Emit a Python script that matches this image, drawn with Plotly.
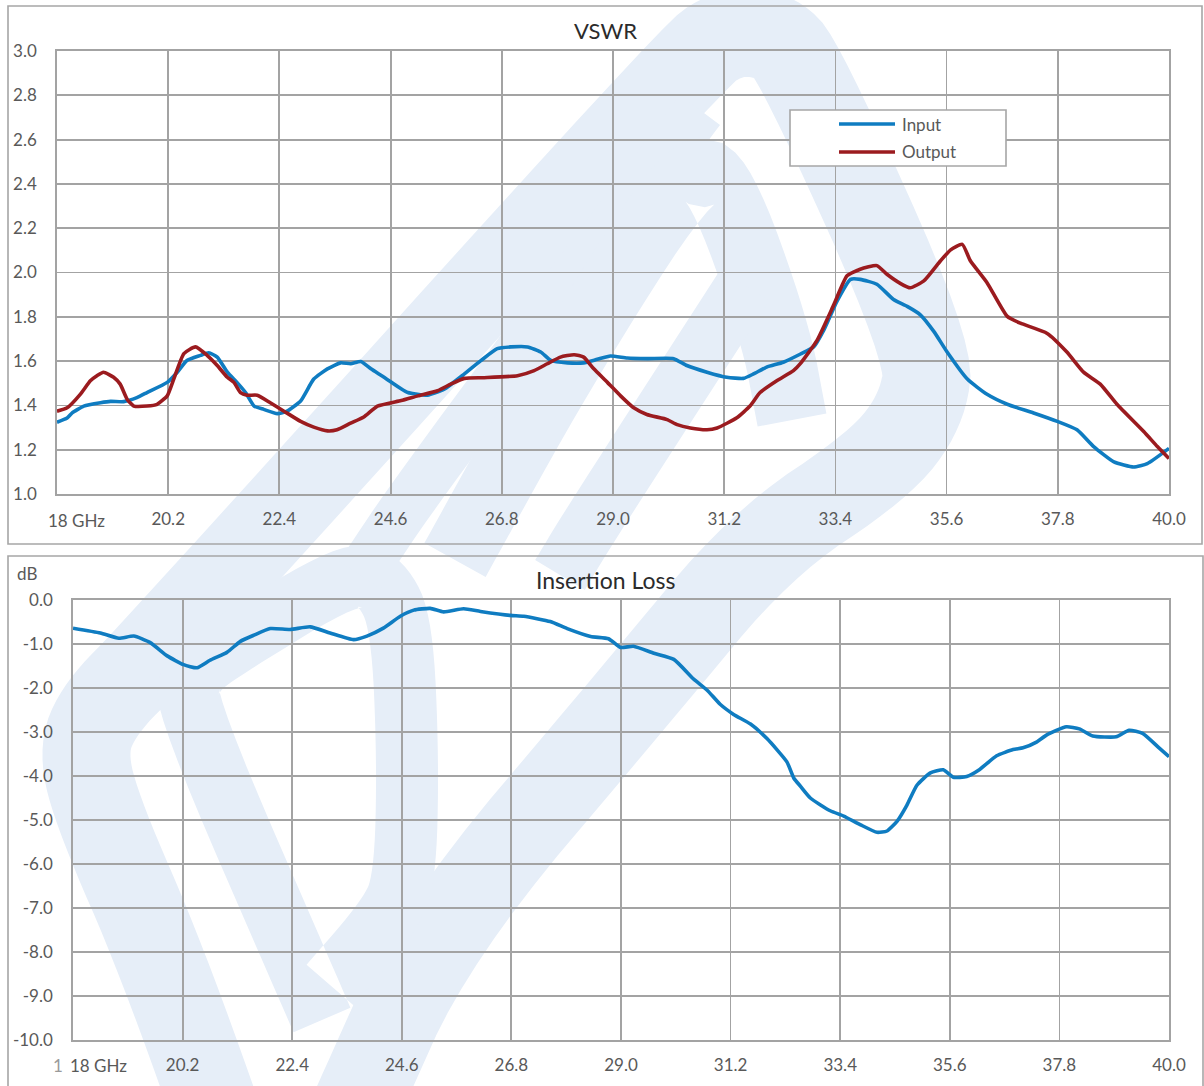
import plotly.graph_objects as go
import numpy as np

W, H = 1204, 1086

# ---------------- data ----------------
freq_in = [18.0, 18.2, 18.3, 18.53, 18.86, 19.06, 19.32, 19.58, 19.78, 20.18, 20.38, 20.57, 20.84, 21.0,
           21.17, 21.37, 21.56, 21.73, 21.9, 22.09, 22.36, 22.55, 22.82, 23.08, 23.35, 23.61, 23.81, 24.01,
           24.21, 24.47, 24.8, 24.94, 25.33, 25.66, 26.06, 26.39, 26.71, 26.98, 27.31, 27.57, 27.77, 28.1,
           28.42, 28.69, 28.95, 29.28, 29.68, 30.2, 30.46, 30.86, 31.25, 31.58, 31.78, 32.04, 32.37, 32.71,
           32.97, 33.17, 33.43, 33.7, 33.89, 34.22, 34.55, 34.82, 35.08, 35.35, 35.61, 36.01, 36.4, 36.8,
           37.32, 37.79, 38.18, 38.51, 38.91, 39.3, 39.57, 40.0]
vswr_in = [1.324, 1.343, 1.366, 1.397, 1.412, 1.418, 1.417, 1.435, 1.458, 1.504, 1.55, 1.603, 1.626, 1.638,
           1.618, 1.55, 1.504, 1.458, 1.397, 1.382, 1.363, 1.374, 1.42, 1.519, 1.565, 1.592, 1.588, 1.598,
           1.565, 1.527, 1.476, 1.458, 1.446, 1.473, 1.542, 1.603, 1.656, 1.664, 1.664, 1.641, 1.603, 1.592,
           1.592, 1.608, 1.623, 1.614, 1.611, 1.611, 1.58, 1.55, 1.527, 1.522, 1.542, 1.573, 1.595, 1.632,
           1.664, 1.74, 1.87, 1.969, 1.969, 1.947, 1.878, 1.847, 1.809, 1.733, 1.641, 1.519, 1.45, 1.405,
           1.366, 1.328, 1.29, 1.214, 1.145, 1.122, 1.137, 1.206]

freq_out = [18.0, 18.2, 18.46, 18.66, 18.79, 18.92, 19.12, 19.25, 19.39, 19.52, 19.78, 19.98, 20.18, 20.31,
            20.51, 20.74, 20.97, 21.17, 21.37, 21.5, 21.63, 21.76, 21.96, 22.22, 22.49, 22.82, 23.08, 23.35,
            23.54, 23.81, 24.07, 24.34, 24.81, 25.14, 25.53, 25.79, 26.06, 26.45, 27.11, 27.44, 27.7, 27.96,
            28.23, 28.42, 28.62, 28.89, 29.15, 29.41, 29.67, 30.07, 30.27, 30.53, 30.86, 31.06, 31.45, 31.71,
            31.91, 32.24, 32.57, 32.71, 33.04, 33.37, 33.63, 33.89, 34.22, 34.42, 34.69, 34.88, 35.15, 35.48,
            35.68, 35.91, 36.07, 36.4, 36.8, 37.06, 37.59, 37.98, 38.31, 38.64, 38.97, 39.5, 39.77, 40.0]
vswr_out = [1.374, 1.389, 1.45, 1.511, 1.534, 1.55, 1.527, 1.496, 1.427, 1.397, 1.397, 1.405, 1.443, 1.519,
            1.634, 1.664, 1.626, 1.58, 1.527, 1.504, 1.458, 1.446, 1.446, 1.412, 1.374, 1.328, 1.302, 1.285,
            1.29, 1.32, 1.348, 1.397, 1.422, 1.443, 1.466, 1.496, 1.522, 1.525, 1.534, 1.557, 1.588, 1.618,
            1.629, 1.618, 1.565, 1.504, 1.443, 1.389, 1.359, 1.336, 1.313, 1.298, 1.29, 1.298, 1.344, 1.397,
            1.458, 1.511, 1.557, 1.59, 1.695, 1.855, 1.985, 2.015, 2.031, 1.992, 1.95, 1.931, 1.962, 2.053,
            2.102, 2.127, 2.053, 1.954, 1.802, 1.771, 1.725, 1.641, 1.55, 1.496, 1.405, 1.282, 1.214, 1.16]

freq_il = [18.0, 18.55, 18.92, 19.22, 19.55, 19.89, 20.22, 20.49, 20.75, 21.09, 21.36, 21.63, 21.96, 22.36,
           22.76, 23.16, 23.63, 23.9, 24.23, 24.57, 24.84, 25.17, 25.44, 25.84, 26.18, 26.78, 27.05, 27.58,
           27.92, 28.39, 28.75, 28.99, 29.25, 29.66, 30.06, 30.46, 30.73, 30.99, 31.26, 31.6, 31.93, 32.33,
           32.47, 32.6, 32.8, 33.2, 33.47, 33.81, 34.14, 34.34, 34.54, 34.74, 34.94, 35.21, 35.47, 35.67,
           35.94, 36.2, 36.54, 36.87, 37.07, 37.34, 37.54, 37.94, 38.2, 38.47, 38.94, 39.2, 39.47, 39.8, 40.0]
il_db = [-0.64, -0.75, -0.87, -0.82, -0.97, -1.27, -1.47, -1.54, -1.37, -1.19, -0.94, -0.80, -0.65, -0.67,
         -0.61, -0.75, -0.90, -0.82, -0.64, -0.37, -0.23, -0.19, -0.27, -0.20, -0.26, -0.35, -0.37, -0.49,
         -0.65, -0.83, -0.88, -1.08, -1.05, -1.21, -1.35, -1.80, -2.05, -2.37, -2.60, -2.82, -3.15, -3.68,
         -4.05, -4.23, -4.50, -4.79, -4.91, -5.11, -5.28, -5.25, -5.03, -4.66, -4.21, -3.93, -3.86, -4.03,
         -4.01, -3.85, -3.54, -3.40, -3.36, -3.23, -3.07, -2.88, -2.93, -3.09, -3.11, -2.96, -3.03, -3.36, -3.56]

x_ticks = [18.0, 20.2, 22.4, 24.6, 26.8, 29.0, 31.2, 33.4, 35.6, 37.8, 40.0]
x_tick_text = ["", "20.2", "22.4", "24.6", "26.8", "29.0", "31.2", "33.4", "35.6", "37.8", "40.0"]
first_x_label = "18 GHz"
vswr_ticks = [1.0, 1.2, 1.4, 1.6, 1.8, 2.0, 2.2, 2.4, 2.6, 2.8, 3.0]
vswr_tick_text = ["1.0", "1.2", "1.4", "1.6", "1.8", "2.0", "2.2", "2.4", "2.6", "2.8", "3.0"]
il_ticks = [0, -1, -2, -3, -4, -5, -6, -7, -8, -9, -10]
il_tick_text = ["0.0", "-1.0", "-2.0", "-3.0", "-4.0", "-5.0", "-6.0", "-7.0", "-8.0", "-9.0", "-10.0"]
series_names = ["Input", "Output"]

# ---------------- style ----------------
BLUE = "#0F7CC1"
RED = "#9B1B1F"
GRID = "#a3a3a3"
LABEL = "#595959"
TITLE = "#2b2b2b"
WM = "#e6eef8"
FONT = "Lato, 'Open Sans', sans-serif"


def px(x):
    return x / W


def py(y):
    return 1 - y / H


def chaikin(pts, it=3):
    P = np.array(pts, float)
    for _ in range(it):
        Q = [P[0]]
        for a, b in zip(P[:-1], P[1:]):
            Q.append(0.75 * a + 0.25 * b)
            Q.append(0.25 * a + 0.75 * b)
        Q.append(P[-1])
        P = np.array(Q)
    return P


def band_path(pts, w):
    P = chaikin(pts)
    n = len(P)
    N = []
    for i in range(n):
        if i == 0:
            d = P[1] - P[0]
        elif i == n - 1:
            d = P[-1] - P[-2]
        else:
            d = P[i + 1] - P[i - 1]
        d = d / np.linalg.norm(d)
        N.append(np.array([-d[1], d[0]]))
    N = np.array(N)
    L = P + N * w / 2
    R = P - N * w / 2
    poly = np.vstack([L, R[::-1]])
    return "M " + " L ".join(f"{px(x):.5f},{py(y):.5f}" for x, y in poly) + " Z"


# watermark (faint logo) centre-lines in page pixels
wm_bands = [
    # outer rounded frame
    ([(240, 1180), (161, 958), (100, 818), (82, 752), (100, 708), (153, 655), (690, 60), (728, 32),
      (772, 34), (800, 62), (930, 350), (922, 410), (880, 465), (760, 545), (640, 690), (433, 935),
      (350, 1120)], 88),
    # inner "D" loop
    ([(322, 1020), (185, 705), (192, 672), (230, 645), (350, 572), (382, 582), (402, 625), (408, 760),
      (405, 880), (388, 918), (330, 985)], 62),
    # inner diagonal strokes (upper chart)
    ([(360, 575), (420, 485), (700, 110)], 50),
    ([(455, 560), (560, 370), (688, 168), (720, 178), (775, 330), (792, 420)], 70),
    ([(745, 285), (590, 525), (560, 575)], 58),
]

fig = go.Figure()

fig.add_trace(go.Scatter(x=freq_in, y=vswr_in, mode="lines", name=series_names[0],
                         line=dict(color=BLUE, width=3.6, shape="spline", smoothing=0.5),
                         xaxis="x", yaxis="y", showlegend=False))
fig.add_trace(go.Scatter(x=freq_out, y=vswr_out, mode="lines", name=series_names[1],
                         line=dict(color=RED, width=3.6, shape="spline", smoothing=0.5),
                         xaxis="x", yaxis="y", showlegend=False))
fig.add_trace(go.Scatter(x=freq_il, y=il_db, mode="lines", name="Insertion Loss",
                         line=dict(color=BLUE, width=3.6, shape="spline", smoothing=0.5),
                         xaxis="x2", yaxis="y2", showlegend=False))

axis_common = dict(showgrid=True, gridcolor=GRID, gridwidth=1.8, showline=True, mirror=True,
                   linecolor=GRID, linewidth=1.8, zeroline=False, ticks="", automargin=False,
                   tickfont=dict(family=FONT, size=17, color=LABEL), fixedrange=True)

shapes = []
for pts, w in wm_bands:
    shapes.append(dict(type="path", path=band_path(pts, w), xref="paper", yref="paper",
                       fillcolor=WM, line=dict(width=0), layer="below"))
# chart area borders
shapes.append(dict(type="rect", xref="paper", yref="paper", x0=px(8), x1=px(1202), y0=py(544), y1=py(6),
                   line=dict(color="#a6a6a6", width=1.6), layer="below"))
shapes.append(dict(type="rect", xref="paper", yref="paper", x0=px(8), x1=px(1203), y0=py(1096), y1=py(556),
                   line=dict(color="#a6a6a6", width=1.6), layer="below"))
# legend box and keys
shapes.append(dict(type="rect", xref="paper", yref="paper", x0=px(790), x1=px(1006), y0=py(166), y1=py(110),
                   line=dict(color="#a6a6a6", width=1.6), fillcolor="white", layer="above"))
shapes.append(dict(type="line", xref="paper", yref="paper", x0=px(839), x1=px(895), y0=py(124), y1=py(124),
                   line=dict(color=BLUE, width=3.6), layer="above"))
shapes.append(dict(type="line", xref="paper", yref="paper", x0=px(839), x1=px(895), y0=py(152), y1=py(152),
                   line=dict(color=RED, width=3.6), layer="above"))

ann = []
ann.append(dict(text="VSWR", x=px(605), y=py(30), xref="paper", yref="paper", showarrow=False,
                xanchor="center", yanchor="middle", font=dict(family=FONT, size=22, color=TITLE)))
ann.append(dict(text="Insertion Loss", x=px(605), y=py(580), xref="paper", yref="paper", showarrow=False,
                xanchor="center", yanchor="middle", font=dict(family=FONT, size=23, color=TITLE)))
ann.append(dict(text="dB", x=px(27), y=py(573), xref="paper", yref="paper", showarrow=False,
                xanchor="center", yanchor="middle", font=dict(family=FONT, size=17, color=LABEL)))
ann.append(dict(text=first_x_label, x=px(76), y=py(520), xref="paper", yref="paper", showarrow=False,
                xanchor="center", yanchor="middle", font=dict(family=FONT, size=17, color=LABEL)))
ann.append(dict(text=first_x_label, x=px(98), y=py(1065), xref="paper", yref="paper", showarrow=False,
                xanchor="center", yanchor="middle", font=dict(family=FONT, size=17, color=LABEL)))
ann.append(dict(text="1", x=px(58), y=py(1065), xref="paper", yref="paper", showarrow=False,
                xanchor="center", yanchor="middle", font=dict(family=FONT, size=17, color="#9a9a9a")))
ann.append(dict(text=series_names[0], x=px(900), y=py(124), xref="paper", yref="paper", showarrow=False,
                xanchor="left", yanchor="middle", font=dict(family=FONT, size=17, color=LABEL)))
ann.append(dict(text=series_names[1], x=px(900), y=py(152), xref="paper", yref="paper", showarrow=False,
                xanchor="left", yanchor="middle", font=dict(family=FONT, size=17, color=LABEL)))

fig.update_layout(
    width=W, height=H, autosize=False,
    margin=dict(l=0, r=0, t=0, b=0, pad=0),
    paper_bgcolor="white", plot_bgcolor="rgba(0,0,0,0)",
    showlegend=False,
    font=dict(family=FONT, color=LABEL),
    xaxis=dict(domain=[px(57), px(1169)], range=[18, 40], tickvals=x_ticks, ticktext=x_tick_text,
               anchor="y", ticklabelstandoff=9, **axis_common),
    yaxis=dict(domain=[py(494), py(51)], range=[1, 3], tickvals=vswr_ticks, ticktext=vswr_tick_text,
               anchor="x", ticklabelstandoff=15, **axis_common),
    xaxis2=dict(domain=[px(73), px(1169)], range=[18, 40], tickvals=x_ticks, ticktext=x_tick_text,
                anchor="y2", ticklabelstandoff=9, **axis_common),
    yaxis2=dict(domain=[py(1040), py(600)], range=[-10, 0], tickvals=il_ticks, ticktext=il_tick_text,
                anchor="x2", ticklabelstandoff=15, **axis_common),
    shapes=shapes,
    annotations=ann,
)

fig.write_html("out.html", config={"displayModeBar": False, "staticPlot": True},
               post_script="document.body.style.margin='0px';document.body.style.overflow='hidden';")
